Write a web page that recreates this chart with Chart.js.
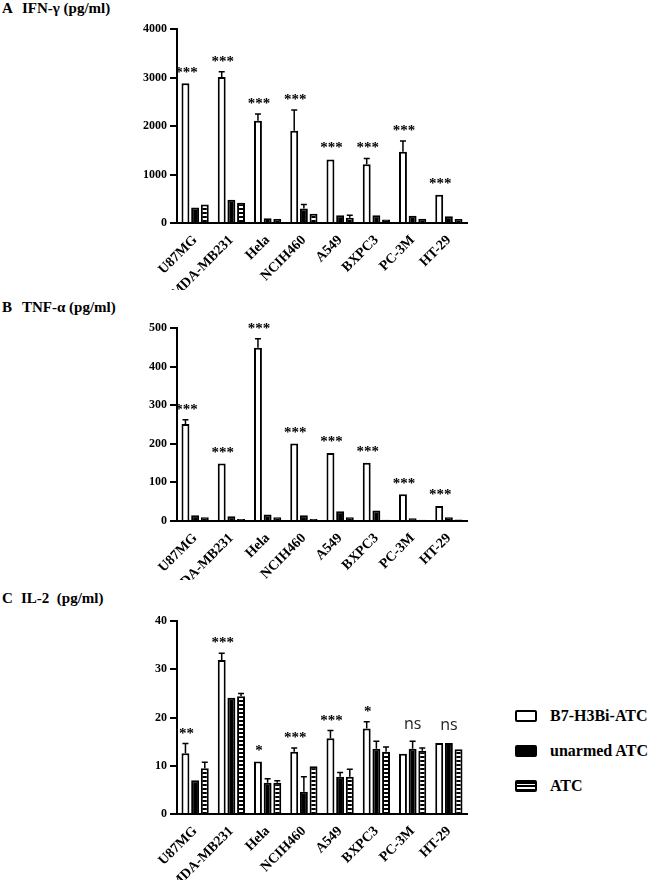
<!DOCTYPE html>
<html>
<head>
<meta charset="utf-8">
<script src="https://cdn.jsdelivr.net/npm/chart.js@4/dist/chart.umd.min.js"></script>
<style>
  html, body { margin:0; padding:0; background:#fff; }
  body { width:650px; height:880px; position:relative; overflow:hidden; font-family:"Liberation Serif","Times New Roman",serif; }
  canvas.cv { position:absolute; left:0; }
  .ttl { position:absolute; font-weight:bold; font-size:15px; white-space:pre; color:#000; line-height:1; }
  .leg { position:absolute; left:515px; height:20px; display:flex; align-items:center; }
  .sw { width:18px; height:8px; border:2px solid #000; border-radius:2px; box-sizing:content-box; margin-right:13px; }
  .sw.w { background:#fff; }
  .sw.b { background:#000; }
  .sw.s { background:repeating-linear-gradient(to bottom,#000 0px,#000 2px,#fff 2px,#fff 3.5px); }
  .lt { font-weight:bold; font-size:16px; color:#000; }
</style>
</head>
<body>
<div class="ttl" style="left:2px;top:1px;">A</div><div class="ttl" style="left:22px;top:1px;">IFN-γ (pg/ml)</div>
<div class="ttl" style="left:2px;top:300px;">B</div><div class="ttl" style="left:22px;top:300px;">TNF-α (pg/ml)</div>
<div class="ttl" style="left:2px;top:591px;">C</div><div class="ttl" style="left:21px;top:591px;">IL-2  (pg/ml)</div>

<canvas id="cA" class="cv" width="480" height="290" style="top:0px"></canvas>
<canvas id="cB" class="cv" width="480" height="290" style="top:290px"></canvas>
<canvas id="cC" class="cv" width="480" height="300" style="top:580px"></canvas>

<div class="leg" style="top:706px"><div class="sw w"></div><span class="lt">B7-H3Bi-ATC</span></div>
<div class="leg" style="top:741px"><div class="sw b"></div><span class="lt">unarmed ATC</span></div>
<div class="leg" style="top:776px"><div class="sw s"></div><span class="lt">ATC</span></div>

<script>
// ---------- DATA ----------
const categories = ['U87MG','MDA-MB231','Hela','NCIH460','A549','BXPC3','PC-3M','HT-29'];
const seriesNames = ['B7-H3Bi-ATC','unarmed ATC','ATC'];

// Panel A: IFN-γ (pg/ml)
const ifnTicks = [0, 1000, 2000, 3000, 4000];
const ifnB7      = [2880, 3010, 2110, 1900, 1310, 1210, 1470, 580];
const ifnB7Err   = [15, 110, 140, 430, 20, 120, 220, 15];
const ifnUnarmed = [320, 480, 100, 300, 160, 160, 150, 140];
const ifnUnarmedErr = [15, 20, 10, 80, 10, 10, 10, 10];
const ifnATC     = [380, 420, 80, 190, 110, 70, 90, 80];
const ifnATCErr  = [20, 20, 5, 30, 50, 5, 10, 5];
const ifnSig     = ['***','***','***','***','***','***','***','***'];

// Panel B: TNF-α (pg/ml)
const tnfTicks = [0, 100, 200, 300, 400, 500];
const tnfB7      = [251, 149, 449, 201, 176, 151, 69, 39];
const tnfB7Err   = [11, 2, 23, 2, 3, 3, 2, 2];
const tnfUnarmed = [15, 12, 17, 15, 25, 27, 7, 10];
const tnfUnarmedErr = [1, 1, 1, 1, 1, 1, 1, 1];
const tnfATC     = [10, 5, 10, 5, 10, 3, 3, 4];
const tnfATCErr  = [1, 1, 1, 1, 1, 0, 0, 0];
const tnfSig     = ['***','***','***','***','***','***','***','***'];

// Panel C: IL-2 (pg/ml)
const il2Ticks = [0, 10, 20, 30, 40];
const il2B7      = [12.6, 31.9, 10.9, 12.9, 15.7, 17.7, 12.5, 14.7];
const il2B7Err   = [2.0, 1.4, 0.1, 0.8, 1.6, 1.4, 0.2, 0.2];
const il2Unarmed = [7.0, 24.1, 6.5, 4.6, 7.7, 13.5, 13.5, 14.7];
const il2UnarmedErr = [0.1, 0.1, 0.8, 3.1, 0.9, 1.6, 1.6, 0.2];
const il2ATC     = [9.5, 24.4, 6.5, 9.9, 7.7, 12.9, 13.1, 13.4];
const il2ATCErr  = [1.2, 0.6, 0.4, 0.1, 1.6, 1.0, 0.6, 0.1];
const il2Sig     = ['**','***','*','***','***','*','ns','ns'];

// ---------- RENDERING ----------
const SERIF = "'Liberation Serif','Times New Roman',serif";

function stripePattern(ctx){
  const c = document.createElement('canvas');
  c.width = 4; c.height = 4;
  const g = c.getContext('2d');
  g.fillStyle = '#000'; g.fillRect(0,0,4,4);
  g.fillStyle = '#fff'; g.fillRect(0,2,4,2);
  return ctx.createPattern(c,'repeat');
}

const errAnnPlugin = {
  id: 'errAnn',
  afterDatasetsDraw(chart, args, opts){
    const ctx = chart.ctx, ys = chart.scales.y;
    ctx.save();
    ctx.strokeStyle = '#000';
    ctx.lineWidth = 1.5;
    chart.data.datasets.forEach((ds, di) => {
      const meta = chart.getDatasetMeta(di);
      meta.data.forEach((bar, i) => {
        const e = ds.errs ? ds.errs[i] : 0;
        if (!(e > 0)) return;
        const yt = ys.getPixelForValue(ds.data[i] + e);
        if (bar.y - yt < 1.5) return;
        ctx.beginPath();
        ctx.moveTo(bar.x, bar.y);
        ctx.lineTo(bar.x, yt);
        ctx.moveTo(bar.x - 3, yt);
        ctx.lineTo(bar.x + 3, yt);
        ctx.stroke();
      });
    });
    const sig = opts.sig || [];
    ctx.textAlign = 'center';
    ctx.textBaseline = 'alphabetic';
    sig.forEach((s, i) => {
      let top = Infinity;
      chart.data.datasets.forEach(ds => {
        const e = ds.errs ? ds.errs[i] : 0;
        top = Math.min(top, ys.getPixelForValue(ds.data[i] + e));
      });
      if (s === 'ns') {
        const x = chart.getDatasetMeta(1).data[i].x;
        ctx.fillStyle = '#222';
        ctx.font = "16px 'Open Sans','Liberation Sans',sans-serif";
        ctx.fillText(s, x, top - 12);
      } else {
        const x = chart.getDatasetMeta(0).data[i].x + 1;
        ctx.fillStyle = '#000';
        ctx.font = "bold 15px " + SERIF;
        ctx.fillText(s, x, top - 6);
      }
    });
    ctx.restore();
  }
};

function makeChart(id, vals, errs, ticks, sig, padTop, xHeight){
  const canvas = document.getElementById(id);
  const ctx = canvas.getContext('2d');
  const pat = stripePattern(ctx);
  const fills = ['#ffffff', '#000000', pat];
  const datasets = seriesNames.map((name, k) => ({
    label: name, data: vals[k], errs: errs[k],
    backgroundColor: fills[k], borderColor: '#000', borderWidth: 2, borderSkipped: 'start',
    categoryPercentage: 0.8, barPercentage: 0.82
  }));
  return new Chart(ctx, {
    type: 'bar',
    data: { labels: categories, datasets },
    plugins: [errAnnPlugin],
    options: {
      responsive: false, animation: false, devicePixelRatio: 1,
      layout: { padding: { top: padTop, right: 13, left: 0, bottom: 0 } },
      plugins: { legend: { display: false }, tooltip: { enabled: false }, title: { display: false }, errAnn: { sig } },
      scales: {
        x: {
          type: 'category', offset: true,
          grid: { display: true, drawOnChartArea: false, drawTicks: false },
          border: { display: true, color: '#000', width: 2 },
          ticks: { autoSkip: false, minRotation: 45, maxRotation: 45, padding: 9, color: '#000', font: { family: SERIF, weight: 'bold', size: 14 } },
          afterFit(s){ s.height = xHeight; }
        },
        y: {
          min: ticks[0], max: ticks[ticks.length - 1],
          afterBuildTicks(s){ s.ticks = ticks.map(v => ({ value: v })); },
          grid: { display: true, drawOnChartArea: false, drawTicks: true, tickLength: 7, color: '#000', lineWidth: 2 },
          border: { display: true, color: '#000', width: 2 },
          ticks: { padding: 3, color: '#000', font: { family: SERIF, weight: 'bold', size: 12 }, callback: (v) => String(v) },
          afterFit(s){ s.width = 177; }
        }
      }
    }
  });
}

makeChart('cA', [ifnB7, ifnUnarmed, ifnATC], [ifnB7Err, ifnUnarmedErr, ifnATCErr], ifnTicks, ifnSig, 29, 67);
makeChart('cB', [tnfB7, tnfUnarmed, tnfATC], [tnfB7Err, tnfUnarmedErr, tnfATCErr], tnfTicks, tnfSig, 38, 59);
makeChart('cC', [il2B7, il2Unarmed, il2ATC], [il2B7Err, il2UnarmedErr, il2ATCErr], il2Ticks, il2Sig, 41, 66);
</script>
</body>
</html>
